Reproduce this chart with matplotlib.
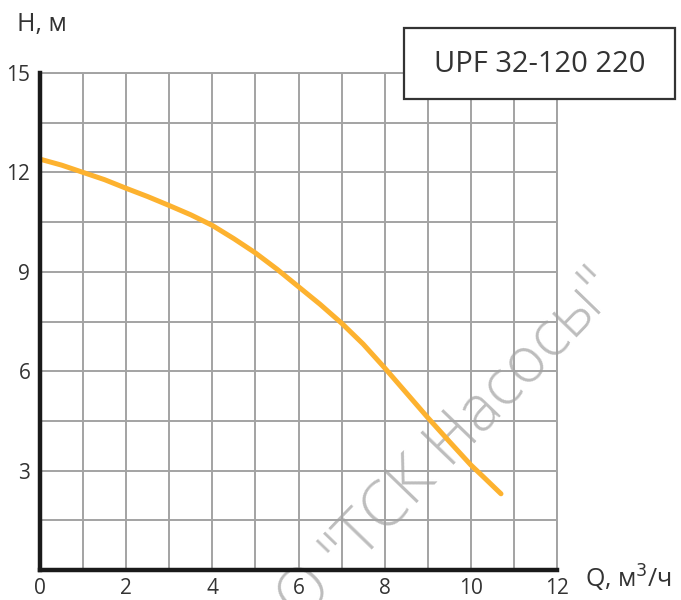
import matplotlib
matplotlib.use("Agg")
import matplotlib.pyplot as plt
from matplotlib.ticker import FixedLocator, MultipleLocator
from matplotlib.patches import Rectangle

plt.rcParams['font.family'] = ['Open Sans', 'DejaVu Sans']

# Data
q_values = [0, 0.5, 1, 1.5, 2, 2.5, 3, 3.5, 4, 4.5, 5, 5.5, 6, 6.5, 7, 7.5, 8, 8.5, 9, 9.5, 10, 10.3, 10.7]
h_values = [12.4, 12.22, 12.0, 11.78, 11.52, 11.27, 11.0, 10.72, 10.4, 10.0, 9.57, 9.08, 8.55, 8.02, 7.45, 6.82, 6.1, 5.35, 4.6, 3.88, 3.17, 2.8, 2.3]
x_ticks = [0, 2, 4, 6, 8, 10, 12]
y_ticks = [3, 6, 9, 12, 15]
title_text = "UPF 32-120 220"
y_label = "H, м"
x_label = "Q, м$^3$/ч"
watermark = 'ООО "ТСК Насосы"'

W, H = 681, 600
fig = plt.figure(figsize=(W / 100, H / 100), dpi=100)
ax = fig.add_axes([40 / W, 1 - 570 / H, (557 - 40) / W, (570 - 73) / H])

ax.set_xlim(0, 12)
ax.set_ylim(0, 15)

ax.xaxis.set_major_locator(FixedLocator(x_ticks))
ax.yaxis.set_major_locator(FixedLocator(y_ticks))
ax.xaxis.set_minor_locator(MultipleLocator(1))
ax.yaxis.set_minor_locator(MultipleLocator(1.5))

grid_color = '#a3a3a3'
ax.grid(True, which='both', color=grid_color, lw=1.4)
ax.set_axisbelow(True)
ax.tick_params(which='both', length=0)
ax.tick_params(axis='x', pad=6, labelsize=15, labelcolor='#333333')
ax.tick_params(axis='y', pad=7, labelsize=15, labelcolor='#333333')

for s in ['top', 'right']:
    ax.spines[s].set_color(grid_color)
    ax.spines[s].set_linewidth(1.4)
for s in ['left', 'bottom']:
    ax.spines[s].set_color('#1a1a1a')
    ax.spines[s].set_linewidth(3.2)
    ax.spines[s].set_zorder(5)

ax.plot(q_values, h_values, color='#FDB22F', lw=3.6, solid_capstyle='round',
        solid_joinstyle='round', zorder=4)

# Watermark (drawn beneath the grid)
ax.text(416 / W, 1 - 481 / H, watermark, transform=fig.transFigure,
        rotation=46, rotation_mode='anchor', ha='center', va='center',
        fontsize=46, fontweight='light', color='#bdbdbd', zorder=0.3, clip_on=False)

# Axis labels
fig.text(17 / W, 1 - 25 / H, y_label, fontsize=18, color='#333333', ha='left', va='center')
fig.text(585 / W, 1 - 578 / H, x_label, fontsize=18, color='#333333', ha='left', va='center')

# Title box
box = Rectangle((404 / W, 1 - 99 / H), (675 - 404) / W, (99 - 28) / H,
                transform=fig.transFigure, facecolor='white', edgecolor='#333333',
                lw=1.6, zorder=10)
fig.patches.append(box)
fig.text((404 + 675) / 2 / W, 1 - 64 / H, title_text, fontsize=21, color='#333333',
         ha='center', va='center', zorder=11)

fig.savefig('out.png', dpi=100)
